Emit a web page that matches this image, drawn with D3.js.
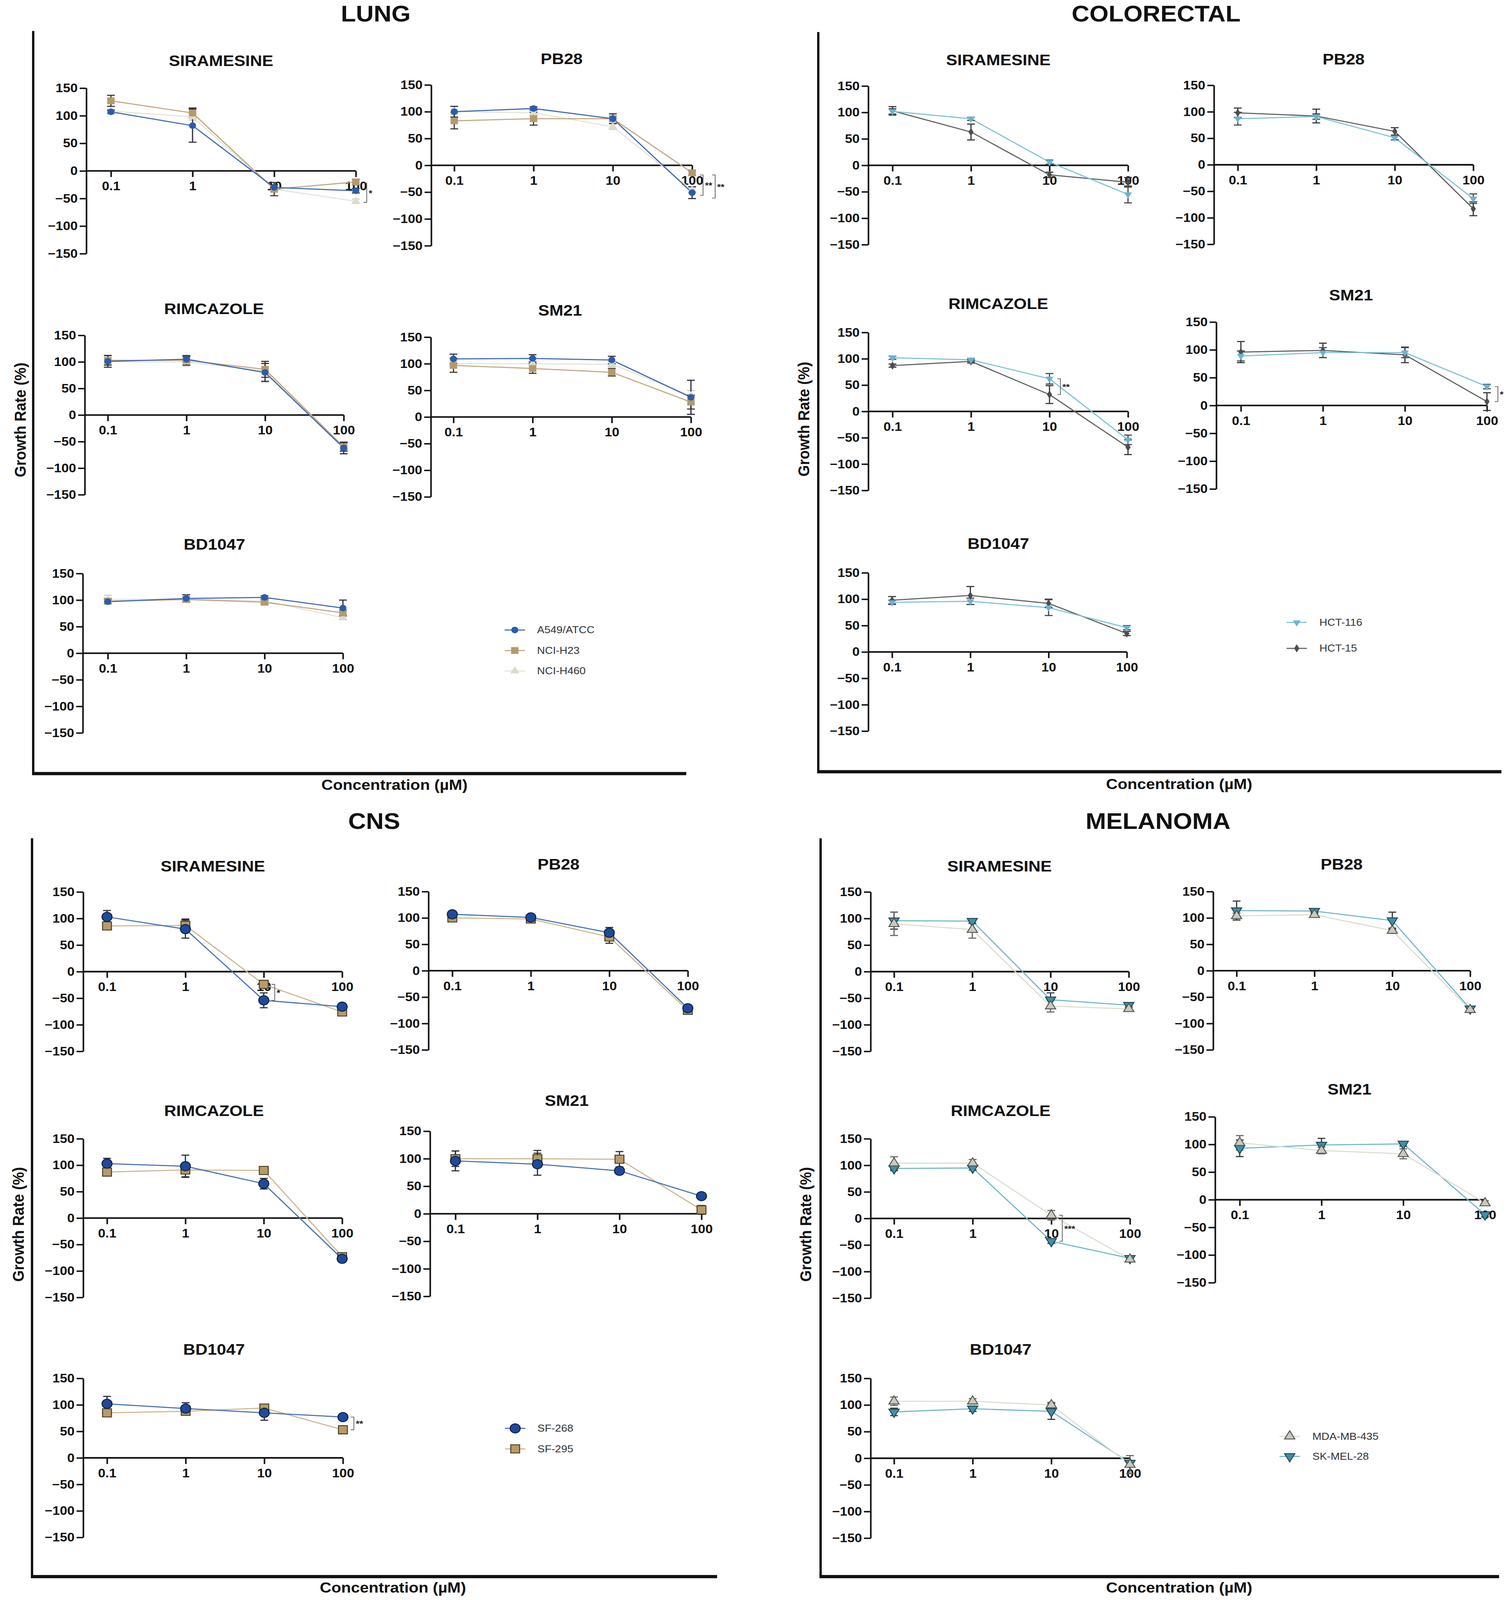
<!DOCTYPE html>
<html>
<head>
<meta charset="utf-8">
<script src="https://cdn.jsdelivr.net/npm/d3@7"></script>
<style>
  html, body { margin: 0; padding: 0; background: #fff; overflow: hidden; }
  svg { display: block; width: 100vw; height: 100vh; }
  text { font-family: "Liberation Sans", Arial, Helvetica, sans-serif; }
</style>
</head>
<body>
<svg id="chart"></svg>
<script>
// ---------- data ----------
const concentrations = [0.1, 1, 10, 100];
const concLabels = ["0.1", "1", "10", "100"];
const yTicks = [-150, -100, -50, 0, 50, 100, 150];
const drugs = ["SIRAMESINE", "PB28", "RIMCAZOLE", "SM21", "BD1047"];
const panelNames = ["LUNG", "COLORECTAL", "CNS", "MELANOMA"];

const lungLines = ["A549/ATCC", "NCI-H23", "NCI-H460"];
const colorectalLines = ["HCT-116", "HCT-15"];
const cnsLines = ["SF-268", "SF-295"];
const melanomaLines = ["MDA-MB-435", "SK-MEL-28"];

// growth rate (%) — one row per drug (order of `drugs`), one column per concentration
const a549 = [[107, 82, -30, -36], [100, 106, 87, -51], [101, 105, 80, -62], [109, 110, 107, 37], [97, 103, 105, 85]];
const a549Err = [[3, 30, 5, 4], [10, 3, 9, 11], [11, 5, 17, 11], [9, 7, 7, 32], [4, 7, 3, 15]];
const h23 = [[127, 105, -33, -20], [83, 87, 87, -14], [103, 103, 86, -60], [97, 91, 84, 28], [98, 101, 96, 76]];
const h23Err = [[10, 9, 12, 5], [15, 12, 5, 5], [9, 9, 15, 8], [13, 9, 7, 13], [5, 5, 4, 5]];
const h460 = [[108, 98, -33, -55], [100, 98, 72, -46], [100, 100, 83, -62], [100, 100, 99, 40], [101, 102, 98, 67]];
const h460Err = [[4, 6, 6, 4], [5, 5, 5, 5], [5, 8, 18, 6], [5, 5, 5, 10], [8, 5, 4, 4]];

const hct116 = [[102, 88, 6, -55], [87, 91, 51, -64], [102, 98, 62, -54], [89, 95, 95, 34], [94, 96, 84, 46]];
const hct116Err = [[5, 3, 4, 16], [12, 5, 4, 9], [3, 3, 10, 9], [9, 9, 9, 4], [4, 6, 15, 4]];
const hct15 = [[103, 63, -18, -32], [98, 92, 63, -83], [87, 95, 32, -68], [96, 99, 91, 7], [98, 107, 92, 35]];
const hct15Err = [[8, 15, 5, 9], [9, 13, 7, 13], [3, 3, 17, 14], [19, 13, 14, 16], [7, 17, 8, 4]];

const sf268 = [[103, 80, -54, -66], [107, 101, 72, -71], [103, 98, 65, -77], [96, 90, 78, 32], [102, 93, 85, 77]];
const sf268Err = [[12, 17, 14, 4], [5, 4, 10, 6], [10, 21, 10, 4], [18, 20, 5, 5], [14, 11, 14, 4]];
const sf295 = [[86, 87, -24, -76], [100, 98, 64, -75], [87, 91, 90, -73], [100, 100, 99, 7], [85, 88, 94, 53]];
const sf295Err = [[5, 12, 5, 5], [4, 4, 12, 5], [5, 13, 4, 5], [14, 15, 14, 8], [6, 5, 5, 5]];

const mda435 = [[90, 79, -65, -70], [104, 106, 76, -74], [104, 104, 6, -77], [103, 89, 83, -6], [107, 107, 100, -12]];
const mda435Err = [[22, 16, 11, 4], [5, 5, 5, 4], [12, 7, 9, 4], [13, 6, 9, 4], [8, 5, 5, 17]];
const skmel28 = [[96, 95, -53, -63], [114, 113, 95, -72], [94, 95, -43, -75], [93, 99, 101, -27], [87, 93, 88, -9]];
const skmel28Err = [[16, 4, 13, 4], [18, 4, 16, 4], [4, 4, 4, 4], [15, 12, 4, 4], [7, 5, 15, 5]];

// significance brackets: panel, drug, concentration, value span, label
const sigMarks = [
  { panel: "LUNG", drug: "SIRAMESINE", conc: 100, from: -22, to: -57, label: "*", level: 0 },
  { panel: "LUNG", drug: "PB28", conc: 100, from: -18, to: -56, label: "**", level: 0 },
  { panel: "LUNG", drug: "PB28", conc: 100, from: -18, to: -61, label: "**", level: 1 },
  { panel: "COLORECTAL", drug: "RIMCAZOLE", conc: 10, from: 62, to: 32, label: "**", level: 0 },
  { panel: "COLORECTAL", drug: "SM21", conc: 100, from: 34, to: 7, label: "*", level: 0 },
  { panel: "CNS", drug: "SIRAMESINE", conc: 10, from: -24, to: -54, label: "*", level: 0 },
  { panel: "CNS", drug: "BD1047", conc: 100, from: 77, to: 53, label: "**", level: 0 },
  { panel: "MELANOMA", drug: "RIMCAZOLE", conc: 10, from: 6, to: -43, label: "***", level: 0 }
];

// ---------- styles ----------
const styles = {
  a549:   { line: "#3c68b4", fill: "#2b5cad", stroke: "none", sym: d3.symbolCircle, size: 260, err: "#2a2a3a" },
  h23:    { line: "#c2a67c", fill: "#b49a6c", stroke: "none", sym: d3.symbolSquare, size: 360, err: "#3a3226" },
  h460:   { line: "#e3e3d8", fill: "#dcdccd", stroke: "none", sym: d3.symbolTriangle, size: 230, err: "#d0d0c2" },
  hct116: { line: "#7cc0d8", fill: "#6ab4cf", stroke: "none", sym: d3.symbolTriangle, size: 170, rot: 180, err: "#444" },
  hct15:  { line: "#5e5e5e", fill: "#4d4d4d", stroke: "none", sym: d3.symbolDiamond, size: 150, err: "#333" },
  sf268:  { line: "#4470b6", fill: "#1f4a9c", stroke: "#0f1f40", sym: d3.symbolCircle, size: 520, err: "#2a2a2a" },
  sf295:  { line: "#cdb78f", fill: "#b79b68", stroke: "#4a3d25", sym: d3.symbolSquare, size: 520, err: "#2a2a2a" },
  mda:    { line: "#dcdcd2", fill: "#cacabe", stroke: "#555", sym: d3.symbolTriangle, size: 300, err: "#666" },
  skmel:  { line: "#70b6ca", fill: "#3f91a8", stroke: "#1f4652", sym: d3.symbolTriangle, size: 300, rot: 180, err: "#333" }
};

const panelSeries = [
  [ { name: lungLines[0], values: a549, err: a549Err, st: styles.a549 },
    { name: lungLines[1], values: h23, err: h23Err, st: styles.h23 },
    { name: lungLines[2], values: h460, err: h460Err, st: styles.h460 } ],
  [ { name: colorectalLines[0], values: hct116, err: hct116Err, st: styles.hct116 },
    { name: colorectalLines[1], values: hct15, err: hct15Err, st: styles.hct15 } ],
  [ { name: cnsLines[0], values: sf268, err: sf268Err, st: styles.sf268 },
    { name: cnsLines[1], values: sf295, err: sf295Err, st: styles.sf295 } ],
  [ { name: melanomaLines[0], values: mda435, err: mda435Err, st: styles.mda },
    { name: melanomaLines[1], values: skmel28, err: skmel28Err, st: styles.skmel } ]
];

// ---------- layout (pixels) ----------
const W = 3866, H = 4447;
const layout = [
  { frame: { left: 85, top: 86, bottom: 2150, right: 1757 }, title: [962, 60], growth: [51, 1167], conc: [1010, 2195],
    legend: { mx: 1318, tx: 1375, ys: [1751, 1808, 1865] },
    boxes: [
      { ax: 221, x01: 284, x100: 911, y150: 245, ym150: 705, tx: 566, ty: 184 },
      { ax: 1104, x01: 1163, x100: 1772, y150: 236, ym150: 683, tx: 1438, ty: 178 },
      { ax: 217, x01: 276, x100: 880, y150: 932, ym150: 1375, tx: 548, ty: 873 },
      { ax: 1103, x01: 1161, x100: 1769, y150: 937, ym150: 1381, tx: 1434, ty: 877 },
      { ax: 212, x01: 276, x100: 878, y150: 1594, ym150: 2037, tx: 549, ty: 1528 } ] },
  { frame: { left: 2095, top: 89, bottom: 2145, right: 3844 }, title: [2960, 60], growth: [2057, 1165], conc: [3019, 2193],
    legend: { mx: 3320, tx: 3378, ys: [1730, 1802] },
    boxes: [
      { ax: 2223, x01: 2285, x100: 2888, y150: 239, ym150: 680, tx: 2556, ty: 181 },
      { ax: 3108, x01: 3169, x100: 3772, y150: 237, ym150: 679, tx: 3440, ty: 179 },
      { ax: 2223, x01: 2285, x100: 2888, y150: 924, ym150: 1363, tx: 2556, ty: 859 },
      { ax: 3114, x01: 3177, x100: 3807, y150: 895, ym150: 1359, tx: 3459, ty: 835 },
      { ax: 2223, x01: 2284, x100: 2885, y150: 1592, ym150: 2032, tx: 2556, ty: 1525 } ] },
  { frame: { left: 82, top: 2330, bottom: 4382, right: 1836 }, title: [958, 2304], growth: [46, 3403], conc: [1006, 4426],
    legend: { mx: 1319, tx: 1376, ys: [3970, 4027] },
    boxes: [
      { ax: 213, x01: 274, x100: 876, y150: 2479, ym150: 2922, tx: 545, ty: 2422 },
      { ax: 1097, x01: 1158, x100: 1761, y150: 2478, ym150: 2918, tx: 1430, ty: 2417 },
      { ax: 213, x01: 274, x100: 876, y150: 3165, ym150: 3606, tx: 548, ty: 3102 },
      { ax: 1101, x01: 1166, x100: 1796, y150: 3144, ym150: 3603, tx: 1451, ty: 3074 },
      { ax: 213, x01: 274, x100: 878, y150: 3831, ym150: 4273, tx: 548, ty: 3765 } ] },
  { frame: { left: 2101, top: 2330, bottom: 4382, right: 3838 }, title: [2965, 2304], growth: [2062, 3403], conc: [3019, 4426],
    legend: { mx: 3302, tx: 3360, ys: [3992, 4048] },
    boxes: [
      { ax: 2229, x01: 2289, x100: 2890, y150: 2479, ym150: 2922, tx: 2559, ty: 2422 },
      { ax: 3106, x01: 3166, x100: 3764, y150: 2478, ym150: 2918, tx: 3435, ty: 2417 },
      { ax: 2229, x01: 2289, x100: 2893, y150: 3165, ym150: 3608, tx: 2562, ty: 3102 },
      { ax: 3111, x01: 3174, x100: 3802, y150: 3104, ym150: 3565, tx: 3455, ty: 3042 },
      { ax: 2229, x01: 2289, x100: 2893, y150: 3831, ym150: 4275, tx: 2562, ty: 3765 } ] }
];

// the drawing is laid out in a 3866x4447 coordinate space and stretched to the window
const svg = d3.select("#chart")
  .attr("viewBox", `0 0 ${W} ${H}`)
  .attr("preserveAspectRatio", "none");

function marker(sel, st) {
  sel.attr("d", d3.symbol().type(st.sym).size(st.size))
    .attr("fill", st.fill)
    .attr("stroke", st.stroke)
    .attr("stroke-width", st.stroke === "none" ? 0 : 2.5);
}

function drawPlot(g, box, drug, drugIndex, series, panelName) {
  const x = d3.scaleLog().domain([0.1, 100]).range([box.x01, box.x100]);
  const y = d3.scaleLinear().domain([-150, 150]).range([box.ym150, box.y150]);

  // title
  g.append("text").attr("x", box.tx).attr("y", box.ty)
    .attr("text-anchor", "middle").attr("font-size", 43).attr("font-weight", "bold")
    .attr("fill", "#111").text(drug);

  // y axis
  const yAxis = g.append("g").attr("transform", `translate(${box.ax},0)`)
    .call(d3.axisLeft(y).tickValues(yTicks).tickSize(17).tickSizeOuter(0).tickPadding(5));
  // x axis at zero
  const xAxis = g.append("g").attr("transform", `translate(0,${y(0)})`)
    .call(d3.axisBottom(x).tickValues(concentrations).tickFormat((d, i) => concLabels[i])
      .tickSize(17).tickSizeOuter(0).tickPadding(13));
  xAxis.select(".domain").remove();
  g.append("line").attr("x1", box.ax).attr("x2", box.x100)
    .attr("y1", y(0)).attr("y2", y(0)).attr("stroke", "#111").attr("stroke-width", 4.5);

  [yAxis, xAxis].forEach(a => {
    a.selectAll("path.domain").attr("stroke", "#111").attr("stroke-width", 4);
    a.selectAll(".tick line").attr("stroke", "#111").attr("stroke-width", 4);
    a.selectAll(".tick text").attr("fill", "#111").attr("font-size", 34)
      .attr("font-weight", "bold").attr("font-family", "Liberation Sans, Arial, sans-serif");
  });

  const ordered = series.slice().reverse();
  const line = d3.line().x((d, i) => x(concentrations[i])).y(d => y(d));

  ordered.forEach(s => {
    g.append("path").datum(s.values[drugIndex])
      .attr("d", line).attr("fill", "none")
      .attr("stroke", s.st.line).attr("stroke-width", 3);
  });

  ordered.forEach(s => {
    const vals = s.values[drugIndex], errs = s.err[drugIndex];
    const eb = g.append("g").attr("stroke", s.st.err).attr("stroke-width", 3);
    vals.forEach((v, i) => {
      const cx = x(concentrations[i]);
      const top = y(v + errs[i]), bot = y(v - errs[i]);
      eb.append("line").attr("x1", cx).attr("x2", cx).attr("y1", top).attr("y2", bot);
      eb.append("line").attr("x1", cx - 10).attr("x2", cx + 10).attr("y1", top).attr("y2", top);
      eb.append("line").attr("x1", cx - 10).attr("x2", cx + 10).attr("y1", bot).attr("y2", bot);
    });
  });

  ordered.forEach(s => {
    g.selectAll(null).data(s.values[drugIndex]).enter().append("path")
      .attr("transform", (d, i) => `translate(${x(concentrations[i])},${y(d)})` + (s.st.rot ? ` rotate(${s.st.rot})` : ""))
      .call(marker, s.st);
  });

  // significance brackets
  sigMarks.filter(m => m.panel === panelName && m.drug === drug).forEach(m => {
    const bx = x(m.conc) + 28 + m.level * 31;
    const y1 = y(m.from), y2 = y(m.to);
    g.append("path")
      .attr("d", `M${bx - 8},${y1}H${bx}V${y2}H${bx - 8}`)
      .attr("fill", "none").attr("stroke", "#666").attr("stroke-width", 2);
    g.append("text").attr("x", bx + 5).attr("y", (y1 + y2) / 2 + 9)
      .attr("font-size", 24).attr("font-weight", "bold").attr("fill", "#222").text(m.label);
  });
}

layout.forEach((p, pi) => {
  const g = svg.append("g");
  const f = p.frame;
  g.append("line").attr("x1", f.left).attr("x2", f.left).attr("y1", f.top).attr("y2", f.bottom)
    .attr("stroke", "#111").attr("stroke-width", 6);
  g.append("line").attr("x1", f.left - 3).attr("x2", f.right).attr("y1", f.bottom).attr("y2", f.bottom)
    .attr("stroke", "#111").attr("stroke-width", 9);

  g.append("text").attr("x", p.title[0]).attr("y", p.title[1])
    .attr("text-anchor", "middle").attr("font-size", 63).attr("font-weight", "bold")
    .attr("fill", "#111").text(panelNames[pi]);

  g.append("text").attr("transform", `translate(${p.growth[0]},${p.growth[1]}) rotate(-90)`)
    .attr("text-anchor", "middle").attr("dominant-baseline", "central")
    .attr("font-size", 41).attr("font-weight", "bold").attr("fill", "#111").text("Growth Rate (%)");

  g.append("text").attr("x", p.conc[0]).attr("y", p.conc[1])
    .attr("text-anchor", "middle").attr("font-size", 41).attr("font-weight", "bold")
    .attr("fill", "#111").text("Concentration (µM)");

  p.boxes.forEach((b, di) => drawPlot(g, b, drugs[di], di, panelSeries[pi], panelNames[pi]));

  // legend
  const lg = g.append("g");
  panelSeries[pi].forEach((s, i) => {
    const ly = p.legend.ys[i];
    lg.append("line").attr("x1", p.legend.mx - 26).attr("x2", p.legend.mx + 26)
      .attr("y1", ly).attr("y2", ly).attr("stroke", s.st.line).attr("stroke-width", 3);
    lg.append("path").attr("transform", `translate(${p.legend.mx},${ly})` + (s.st.rot ? ` rotate(${s.st.rot})` : ""))
      .call(marker, s.st);
    lg.append("text").attr("x", p.legend.tx).attr("y", ly).attr("dominant-baseline", "central")
      .attr("font-size", 28).attr("fill", "#333").text(s.name);
  });
});
</script>
</body>
</html>
